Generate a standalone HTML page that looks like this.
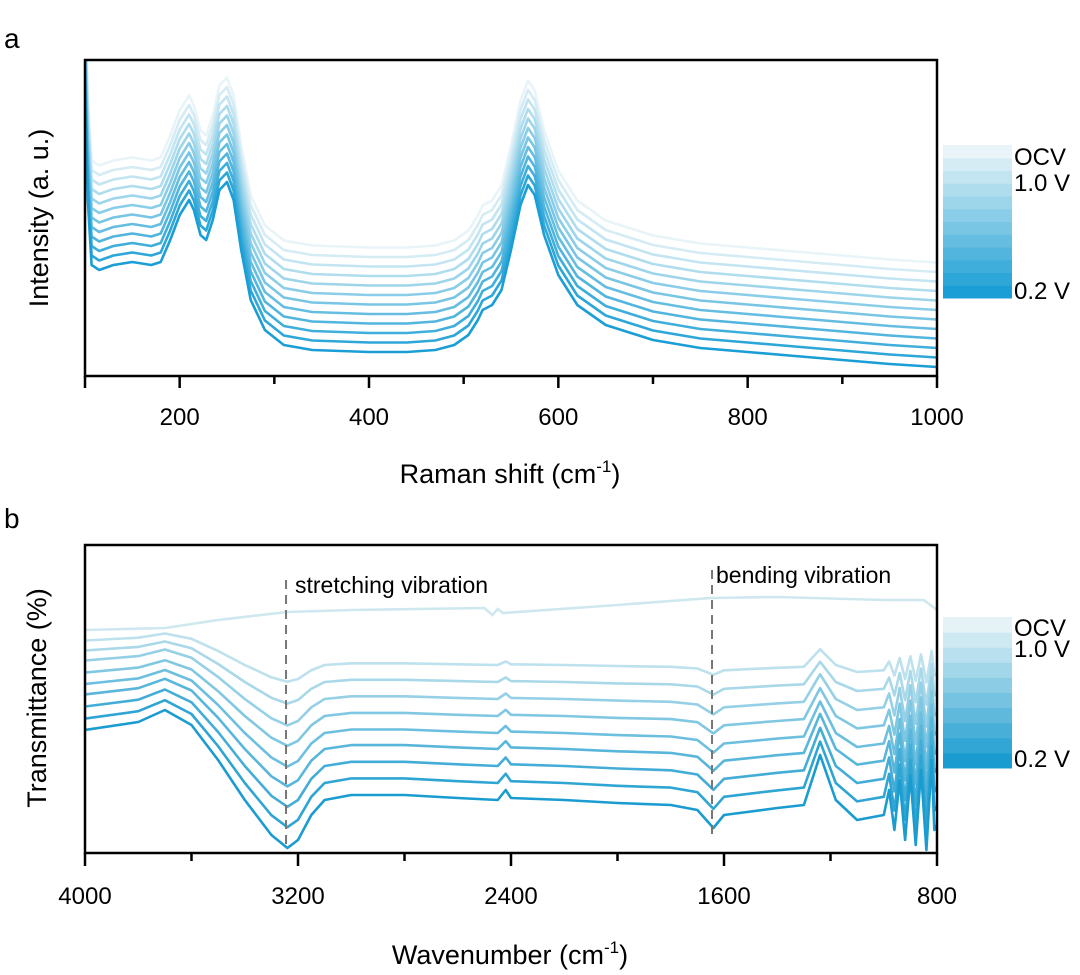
<!DOCTYPE html>
<html><head><meta charset="utf-8"><style>
body{margin:0;background:#fff;}
svg{display:block;font-family:"Liberation Sans",Arial,sans-serif;}
</style></head><body>
<svg id="fig" width="1080" height="975" viewBox="0 0 1080 975">
<defs>
<clipPath id="clipA"><rect x="85" y="60" width="852" height="316"/></clipPath>
<clipPath id="clipB"><rect x="85" y="545" width="852" height="308"/></clipPath>
</defs>
<text x="4" y="48" font-size="28">a</text>
<text x="4" y="528" font-size="28">b</text>
<g id="plotA"></g>
<g id="plotB"></g>
<text transform="translate(48,218) rotate(-90)" text-anchor="middle" font-size="27">Intensity (a. u.)</text>
<text x="510" y="483" text-anchor="middle" font-size="27">Raman shift (cm<tspan dy="-11" font-size="17">-1</tspan><tspan dy="11">)</tspan></text>
<text transform="translate(46,698) rotate(-90)" text-anchor="middle" font-size="27">Transmittance (%)</text>
<text x="510" y="964" text-anchor="middle" font-size="27">Wavenumber (cm<tspan dy="-11" font-size="17">-1</tspan><tspan dy="11">)</tspan></text>
<text x="295" y="593" font-size="23">stretching vibration</text>
<text x="716" y="583" font-size="23">bending vibration</text>
</svg>
<script>
// Panel a data
const ramanX=[100,103,107,115,130,150,170,180,190,200,210,215,222,228,235,242,250,257,265,275,290,310,340,400,440,470,490,505,515,520,530,540,550,560,568,575,585,600,620,650,700,750,800,850,900,950,1000];
const ramanBase=[286,176,111,106,111,114,111,114,136,161,176,166,141,136,156,186,194,176,126,76,46,31,26,24,24,26,31,41,56,66,71,86,126,171,191,181,141,101,71,51,36,28,24,20,16,12,9];
const ramanOffsets=[0,9.5,19,28.5,38,47.5,57,66.5,76,85.5,95,104.5];
const ramanTicks=[100,200,300,400,500,600,700,800,900,1000];
const ramanTickLabels=["","200","","400","","600","","800","","1000"];
// Panel b data
const irX=[4000,3800,3700,3600,3500,3400,3300,3240,3200,3150,3100,3000,2800,2600,2450,2420,2400,2200,2000,1800,1700,1640,1600,1400,1300,1239,1180,1100,1000,980,960,940,920,900,880,860,840,820,810,800];
const irShape=[70,78,90,75,40,0,-35,-48,-40,-15,0,5,5,2,0,10,2,0,-3,-5,-10,-28,-15,-8,-5,45,0,-20,-15,10,-30,20,-40,25,-45,30,-50,40,-30,-25];
const irOffsets=[188,171,154,137,120,104,87,70,53];
const irAmps=[0.35,0.45,0.55,0.62,0.7,0.78,0.85,0.92,1.0];
const ocvX=[4000,3700,3500,3240,3000,2500,2470,2450,2430,2000,1650,1400,1000,850,800];
const ocvY=[223,225,233,241,243,245,238,244,240,248,255,256,253,253,243];
const irTicks=[4000,3600,3200,2800,2400,2000,1600,1200,800];
const irTickLabels=["4000","","3200","","2400","","1600","","800"];
const dashWn=[3245,1645];

const NS="http://www.w3.org/2000/svg";
function mk(tag,attrs,parent){const e=document.createElementNS(NS,tag);for(const k in attrs)e.setAttribute(k,attrs[k]);parent.appendChild(e);return e;}
function mix(a,b,t){const p=c=>[1,3,5].map(i=>parseInt(c.substr(i,2),16));const A=p(a),B=p(b);return "rgb("+A.map((v,i)=>Math.round(v+(B[i]-v)*t)).join(",")+")";}

// Panel A
const gA=document.getElementById('plotA');
const xA=v=>85+(v-100)/900*852;
const yA=v=>376-v;
const lines=mk('g',{'clip-path':'url(#clipA)'},gA);
for(let i=ramanOffsets.length-1;i>=0;i--){
  const t=i/(ramanOffsets.length-1);
  const d=ramanX.map((x,j)=>(j?"L":"M")+xA(x).toFixed(1)+","+yA(ramanBase[j]+ramanOffsets[i]).toFixed(1)).join("");
  const p=mk('path',{d:d,fill:'none',stroke:mix('#1a9ed5','#e8f4f7',t),'stroke-width':2.6,'stroke-linejoin':'round'},lines);
  
  
}
const frA=mk('rect',{x:85,y:60,width:852,height:316,fill:'none',stroke:'#000','stroke-width':2.5},gA);


ramanTicks.forEach((v,i)=>{
  const major=ramanTickLabels[i]!==""||v===100;
  mk('line',{x1:xA(v),x2:xA(v),y1:376,y2:376+(major?12:8),stroke:'#000','stroke-width':2.5},gA);
  if(ramanTickLabels[i]){
    const t=mk('text',{x:xA(v),y:425,'text-anchor':'middle','font-size':24},gA);
    t.textContent=ramanTickLabels[i];
    
    
  }
});
const nA=ramanOffsets.length, cbA=mk('g',{},gA);


for(let i=0;i<nA;i++){const h=153/nA;mk('rect',{x:943,y:298-(i+1)*h,width:69,height:h+0.5,fill:mix('#1a9ed5','#e8f4f7',i/(nA-1))},cbA);}
[["OCV",165],["1.0 V",191],["0.2 V",299]].forEach(l=>{const t=mk('text',{x:1014,y:l[1],'font-size':24},cbA);t.textContent=l[0];});

// Panel B
const gB=document.getElementById('plotB');
const xB=v=>85+(4000-v)/3200*852;
const yB=v=>853-v;
const linesB=mk('g',{'clip-path':'url(#clipB)'},gB);
const ocvD=ocvX.map((x,j)=>(j?"L":"M")+xB(x).toFixed(1)+","+yB(ocvY[j]).toFixed(1)).join("");
const ocv=mk('path',{d:ocvD,fill:'none',stroke:'#cfe8ef','stroke-width':2.6},linesB);


for(let i=0;i<irOffsets.length;i++){
  const t=i/(irOffsets.length-1);
  const d=irX.map((x,j)=>(j?"L":"M")+xB(x).toFixed(1)+","+yB(irOffsets[i]+irAmps[i]*irShape[j]).toFixed(1)).join("");
  const p=mk('path',{d:d,fill:'none',stroke:mix('#bde1ed','#1b9cd0',t),'stroke-width':2.6,'stroke-linejoin':'round'},linesB);
  
  
}
dashWn.forEach((w,i)=>{
  const l=mk('line',{x1:xB(w),x2:xB(w),y1:i?570:580,y2:i?840:850,stroke:'#777','stroke-width':2,'stroke-dasharray':'9,6'},gB);
  
  
});
const frB=mk('rect',{x:85,y:545,width:852,height:308,fill:'none',stroke:'#000','stroke-width':2.5},gB);


irTicks.forEach((v,i)=>{
  const major=irTickLabels[i]!=="";
  mk('line',{x1:xB(v),x2:xB(v),y1:853,y2:853+(major?13:8),stroke:'#000','stroke-width':2.5},gB);
  if(major){
    const t=mk('text',{x:xB(v),y:904,'text-anchor':'middle','font-size':24},gB);
    t.textContent=irTickLabels[i];
    
    
  }
});
const nB=irOffsets.length+1, cbB=mk('g',{},gB);


for(let i=0;i<nB;i++){const h=151/nB;mk('rect',{x:943,y:768-(i+1)*h,width:69,height:h+0.5,fill:mix('#1b9cd0','#e6f3f6',i/(nB-1))},cbB);}
[["OCV",636],["1.0 V",657],["0.2 V",767]].forEach(l=>{const t=mk('text',{x:1014,y:l[1],'font-size':24},cbB);t.textContent=l[0];});
</script>
</body></html>
